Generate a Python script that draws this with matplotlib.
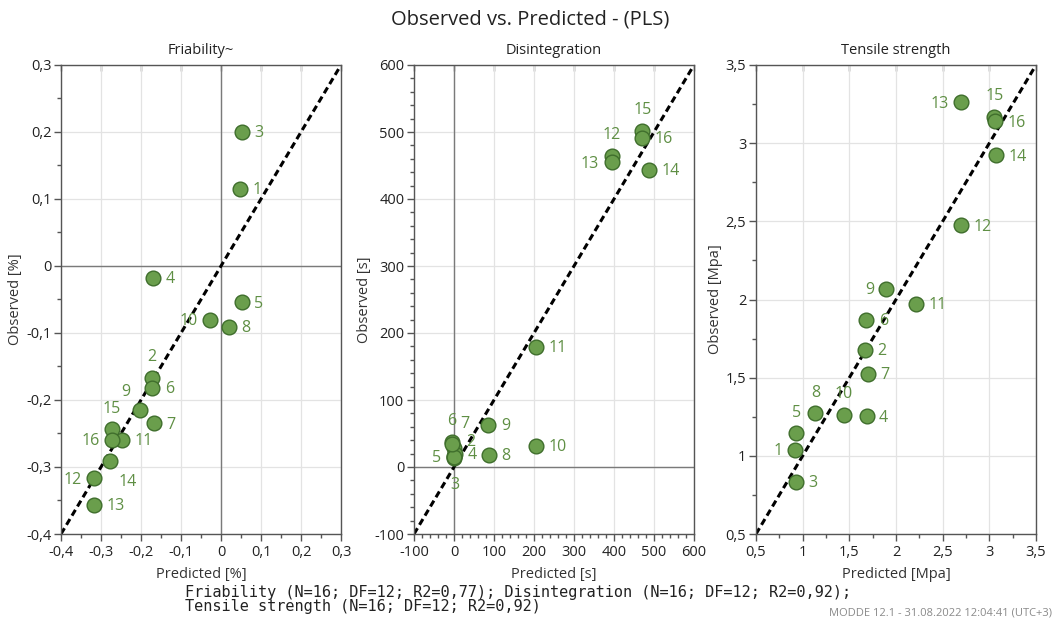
import matplotlib.pyplot as plt
from matplotlib.ticker import MultipleLocator, FuncFormatter

plt.rcParams['font.family'] = ['Open Sans', 'DejaVu Sans']
plt.rcParams['axes.unicode_minus'] = False

run_ids = [str(i) for i in range(1, 17)]

# Friability [%]
fri_pred = [0.048, -0.172, 0.052, -0.170, 0.052, -0.172, -0.168, 0.019,
            -0.203, -0.028, -0.247, -0.318, -0.318, -0.278, -0.273, -0.273]
fri_obs = [0.115, -0.167, 0.200, -0.018, -0.054, -0.182, -0.235, -0.091,
           -0.215, -0.080, -0.259, -0.317, -0.356, -0.291, -0.244, -0.259]

# Disintegration [s]
dis_pred = [0, -1, 1, 2, 0, -6, -4, 87, 86, 206, 206, 394, 394, 488, 471, 471]
dis_obs = [16, 29, 13, 20, 15, 38, 35, 18, 63, 32, 179, 464, 455, 444, 501, 491]

# Tensile strength [Mpa]
ten_pred = [0.92, 1.67, 0.93, 1.685, 0.93, 1.68, 1.70, 1.137,
            1.898, 1.443, 2.215, 2.699, 2.699, 3.069, 3.054, 3.060]
ten_obs = [1.037, 1.678, 0.833, 1.254, 1.143, 1.870, 1.524, 1.271,
           2.069, 1.263, 1.972, 2.474, 3.261, 2.923, 3.169, 3.141]

# label placement per run: r=right, l=left, a=above, b=below, ...
fri_pos = ['r', 'a', 'r', 'r', 'r', 'r', 'r', 'r',
           'ul', 'l', 'r', 'l', 'r', 'br', 'a', 'l']
dis_pos = ['c', 'r2', 'b', 'r', 'l', 'a', 'ur', 'r',
           'r', 'r', 'r', 'a', 'l', 'r', 'a', 'r']
ten_pos = ['l', 'r', 'r', 'r', 'a', 'r', 'r', 'a',
           'l', 'a', 'r', 'r', 'l', 'r', 'a', 'r']

OFFSETS = {
    'r': (9, -1, 'left'), 'l': (-9, -1, 'right'),
    'r2': (9, 4, 'left'),
    'a': (0, 15, 'center'), 'b': (0, -19, 'center'),
    'ul': (-10, 13, 'center'), 'ur': (9, 14, 'center'),
    'br': (13, -15, 'center'), 'c': (0, 0, 'center'),
}

FILL = '#6a9e4c'
EDGE = '#3f6e2c'
LABEL = '#5f8f44'
SPINE = '#555555'


def fmt(v, pos):
    s = f"{round(v, 6):g}"
    return s.replace('.', ',')


def panel(ax, pred, obs, pos, lims, major, minor, title, unit):
    lo, hi = lims
    ax.set_xlim(lo, hi)
    ax.set_ylim(lo, hi)
    for a in (ax.xaxis, ax.yaxis):
        a.set_major_locator(MultipleLocator(major))
        a.set_minor_locator(MultipleLocator(minor))
        a.set_major_formatter(FuncFormatter(fmt))
    ax.grid(True, which='major', color='#e3e3e3', lw=0.9, zorder=0)
    ax.set_axisbelow(True)
    if lo < 0 < hi:
        ax.axhline(0, color='#7a7a7a', lw=1.0, zorder=1)
        ax.axvline(0, color='#7a7a7a', lw=1.0, zorder=1)
    ax.plot([lo, hi], [lo, hi], color='black', lw=2.2,
            ls=(0, (2.2, 1.3)), zorder=2)
    for rid, x, y, p in zip(run_ids, pred, obs, pos):
        dx, dy, ha = OFFSETS[p]
        ax.annotate(rid, (x, y), xytext=(dx, dy), textcoords='offset points',
                    ha=ha, va='center', fontsize=11.5, color=LABEL, zorder=3)
    ax.scatter(pred, obs, s=112, c=FILL, edgecolors=EDGE, linewidths=1.0,
               zorder=4)
    for sp in ax.spines.values():
        sp.set_color(SPINE)
        sp.set_linewidth(1.0)
    ax.tick_params(which='major', length=5, width=1, color=SPINE,
                   labelsize=10.5, labelcolor='#222222', pad=2)
    ax.tick_params(which='minor', length=3, width=1, color=SPINE)
    ax.tick_params(axis='x', which='major', pad=3)
    ax.set_xlabel(f'Predicted {unit}', fontsize=10.5, color='#333333',
                  labelpad=5)
    ax.set_ylabel(f'Observed {unit}', fontsize=10.5, color='#333333',
                  labelpad=2)
    ax.set_title(title, fontsize=10.5, color='#222222', pad=8)

    # short inward ticks along the top edge
    top = ax.secondary_xaxis('top')
    top.xaxis.set_major_locator(MultipleLocator(major))
    top.tick_params(direction='in', length=4, width=1, color=SPINE,
                    labeltop=False)
    top.spines['top'].set_visible(False)


fig = plt.figure(figsize=(10.6, 6.22), dpi=100)
W, H = 1060, 622
lefts = [61, 414, 756]
axes = [fig.add_axes([l / W, 1 - 534 / H, 280 / W, 469 / H]) for l in lefts]

panel(axes[0], fri_pred, fri_obs, fri_pos, (-0.4, 0.3), 0.1, 0.05,
      'Friability~', '[%]')
panel(axes[1], dis_pred, dis_obs, dis_pos, (-100, 600), 100, 20,
      'Disintegration', '[s]')
panel(axes[2], ten_pred, ten_obs, ten_pos, (0.5, 3.5), 0.5, 0.25,
      'Tensile strength', '[Mpa]')

fig.text(0.5, 1 - 20 / H, 'Observed vs. Predicted - (PLS)', ha='center',
         va='center', fontsize=14.5, color='#222222')

mono = dict(family='DejaVu Sans Mono', fontsize=11, color='#222222')
fig.text(185 / W, 1 - 592 / H,
         'Friability (N=16; DF=12; R2=0,77); Disintegration (N=16; DF=12; R2=0,92);',
         ha='left', va='center', **mono)
fig.text(185 / W, 1 - 607 / H, 'Tensile strength (N=16; DF=12; R2=0,92)',
         ha='left', va='center', **mono)
fig.text(1052 / W, 1 - 613 / H, 'MODDE 12.1 - 31.08.2022 12:04:41 (UTC+3)',
         ha='right', va='center', fontsize=8, color='#8a8a8a')

fig.savefig('out.png', dpi=100)
